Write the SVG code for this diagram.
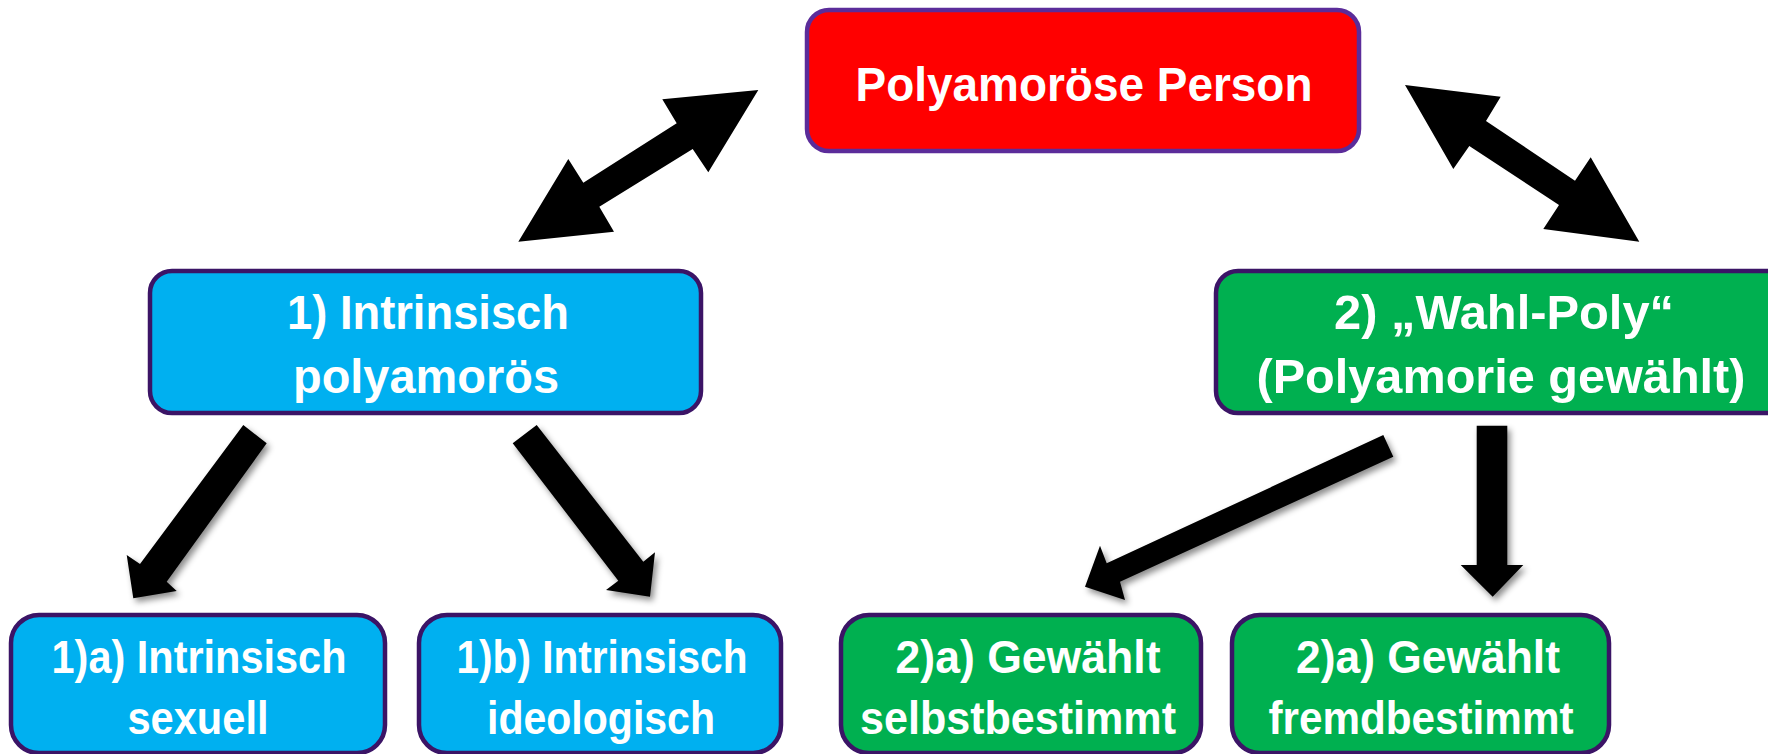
<svg xmlns="http://www.w3.org/2000/svg" width="1768" height="754" viewBox="0 0 1768 754">
  <style>
    .box { stroke-width: 4.5; }
    .red { fill: #FF0000; stroke: #5B2C9A; }
    .blue { fill: #00B0F0; stroke: #3B1466; }
    .green { fill: #00B050; stroke: #3B1466; }
    .lbl { font-family: "Liberation Sans", Arial, sans-serif; font-weight: bold; fill: #FFFFFF; text-anchor: middle; }
    .big { font-size: 49px; }
    .mid { font-size: 48px; }
    .small { font-size: 46px; }
    .arrow { fill: #000000; }
  </style>
  <defs>
    <filter id="shadow" x="-20%" y="-20%" width="140%" height="140%">
      <feDropShadow dx="3" dy="4" stdDeviation="3" flood-color="#000000" flood-opacity="0.45"/>
    </filter>
  </defs>
  <rect width="1768" height="754" fill="#FFFFFF"/>

  <g id="connectors">
    <polygon class="arrow" points="758.3,90 708.3,172.3 692.7,149 599.3,206.7 614,231.7 518.3,241.7 568.3,159 583.3,182.7 676.7,123.3 662.3,99.3"/>
    <polygon class="arrow" points="1405,85 1500.7,96.7 1486,121 1575,180.7 1590.7,157.3 1639.3,241.7 1543.3,229 1559,205 1469.3,146 1453.3,169"/>
    <polygon class="arrow" filter="url(#shadow)" points="243.3,425 266.7,443.3 166.7,581.7 176.7,591 133.3,598.3 126.7,555 140,564"/>
    <polygon class="arrow" filter="url(#shadow)" points="536.7,425 643.3,561.7 655,552.3 650,596.7 606,590 618.3,580.7 512.7,443.3"/>
    <polygon class="arrow" filter="url(#shadow)" points="1383.3,435 1393.3,456.7 1120,581.7 1125,600 1085,586.7 1100,545.7 1106.7,563.3"/>
    <polygon class="arrow" filter="url(#shadow)" points="1476.7,425.7 1507.3,425.7 1507.3,565 1523.3,565 1492.7,596.7 1460.7,565 1476.7,565"/>
  </g>

  <g id="node-person">
    <rect class="box red" x="807" y="10" width="552" height="141" rx="22"/>
    <text class="lbl big" x="1084" y="101" textLength="457" lengthAdjust="spacingAndGlyphs">Polyamoröse Person</text>
  </g>

  <g id="node-intrinsisch">
    <rect class="box blue" x="150" y="271" width="551" height="142" rx="22"/>
    <text class="lbl mid" x="428" y="329" textLength="282" lengthAdjust="spacingAndGlyphs">1) Intrinsisch</text>
    <text class="lbl mid" x="426" y="393" textLength="266" lengthAdjust="spacingAndGlyphs">polyamorös</text>
  </g>

  <g id="node-wahlpoly">
    <rect class="box green" x="1216" y="271" width="600" height="142" rx="22"/>
    <text class="lbl mid" x="1504" y="329" textLength="340" lengthAdjust="spacingAndGlyphs">2) „Wahl-Poly“</text>
    <text class="lbl mid" x="1501" y="393" textLength="489" lengthAdjust="spacingAndGlyphs">(Polyamorie gewählt)</text>
  </g>

  <g id="node-1a">
    <rect class="box blue" x="11" y="615" width="374" height="138" rx="28"/>
    <text class="lbl small" x="199" y="673" textLength="295" lengthAdjust="spacingAndGlyphs">1)a) Intrinsisch</text>
    <text class="lbl small" x="198" y="734" textLength="141" lengthAdjust="spacingAndGlyphs">sexuell</text>
  </g>

  <g id="node-1b">
    <rect class="box blue" x="419" y="615" width="362" height="138" rx="28"/>
    <text class="lbl small" x="602" y="673" textLength="291" lengthAdjust="spacingAndGlyphs">1)b) Intrinsisch</text>
    <text class="lbl small" x="601" y="734" textLength="228" lengthAdjust="spacingAndGlyphs">ideologisch</text>
  </g>

  <g id="node-2a">
    <rect class="box green" x="841" y="615" width="360" height="138" rx="28"/>
    <text class="lbl small" x="1028" y="673" textLength="265" lengthAdjust="spacingAndGlyphs">2)a) Gewählt</text>
    <text class="lbl small" x="1018" y="734" textLength="316" lengthAdjust="spacingAndGlyphs">selbstbestimmt</text>
  </g>

  <g id="node-2b">
    <rect class="box green" x="1232" y="615" width="377" height="138" rx="28"/>
    <text class="lbl small" x="1428" y="673" textLength="264" lengthAdjust="spacingAndGlyphs">2)a) Gewählt</text>
    <text class="lbl small" x="1421" y="734" textLength="305" lengthAdjust="spacingAndGlyphs">fremdbestimmt</text>
  </g>
</svg>
